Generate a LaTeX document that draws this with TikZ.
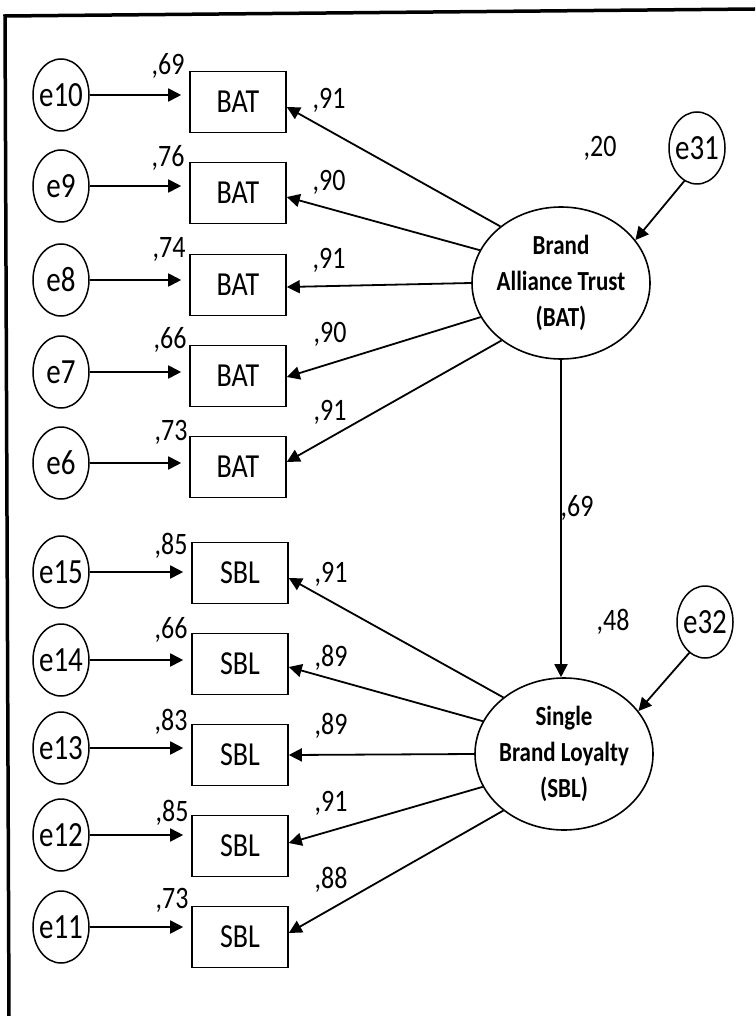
\documentclass[tikz,border=0pt]{standalone}
\usepackage{fontspec}
\setmainfont{Carlito}
\usepackage{graphicx}
\usetikzlibrary{arrows.meta,shapes.geometric,calc}
\newcommand{\tall}[1]{\scalebox{1}[1.2]{#1}}
\newcommand{\ztxt}[1]{\makebox[0pt]{\scalebox{1}[1.22]{#1}}}
\begin{document}
\begin{tikzpicture}[x=1pt,y=-1pt,
  errc/.style={draw,ellipse,line width=1.5pt,minimum width=56pt,minimum height=72pt,inner sep=0pt,font=\fontsize{29}{29}\selectfont},
  obsbox/.style={draw,rectangle,line width=1.6pt,minimum width=96pt,minimum height=61pt,inner sep=0pt,font=\fontsize{28}{28}\selectfont},
  latent/.style={draw,ellipse,line width=1.6pt,minimum width=178pt,minimum height=152pt,inner sep=0pt},
  lattext/.style={font=\bfseries\fontsize{23}{30}\selectfont,inner sep=0pt},
  coef/.style={font=\fontsize{26}{26}\selectfont,inner sep=0pt},
  arr/.style={line width=1.8pt,-{Triangle[length=13pt,width=13pt]}},
  frame/.style={line width=3.5pt}
]
\useasboundingbox (0,0) rectangle (755,1016);
% frame
\draw[frame] (9,1016) -- (5,16) -- (755,9);

% error terms
\node[errc] (e10) at (61,95)  {\ztxt{e10}};
\node[errc] (e9)  at (61,186) {\ztxt{e9}};
\node[errc] (e8)  at (61,280) {\ztxt{e8}};
\node[errc] (e7)  at (61,372) {\ztxt{e7}};
\node[errc] (e6)  at (61,463) {\ztxt{e6}};
\node[errc] (e15) at (61,572) {\ztxt{e15}};
\node[errc] (e14) at (61,660) {\ztxt{e14}};
\node[errc] (e13) at (61,748) {\ztxt{e13}};
\node[errc] (e12) at (61,835) {\ztxt{e12}};
\node[errc] (e11) at (61,927) {\ztxt{e11}};

% observed boxes
\node[obsbox] (b1) at (238,102) {\tall{BAT}};
\node[obsbox] (b2) at (238,193) {\tall{BAT}};
\node[obsbox] (b3) at (238,285) {\tall{BAT}};
\node[obsbox] (b4) at (238,376) {\tall{BAT}};
\node[obsbox] (b5) at (238,467) {\tall{BAT}};
\node[obsbox] (s1) at (240,573) {\tall{SBL}};
\node[obsbox] (s2) at (240,664) {\tall{SBL}};
\node[obsbox] (s3) at (240,755) {\tall{SBL}};
\node[obsbox] (s4) at (240,846) {\tall{SBL}};
\node[obsbox] (s5) at (240,937) {\tall{SBL}};

% latent variables
\node[latent,label={[lattext]center:\tall{\begin{tabular}{@{}c@{}}Brand\\Alliance Trust\\(BAT)\end{tabular}}}] (bat) at (561,283) {};
\node[latent,label={[lattext]center:\tall{\begin{tabular}{@{}c@{}}Single\\Brand Loyalty\\(SBL)\end{tabular}}}] (sbl) at (564,754) {};

% disturbances
\node[errc] (e31) at (697,148) {\ztxt{e31}};
\node[errc] (e32) at (705,622) {\ztxt{e32}};

% error arrows
\foreach \e/\b in {e10/b1,e9/b2,e8/b3,e7/b4,e6/b5,e15/s1,e14/s2,e13/s3,e12/s4,e11/s5}
  \draw[arr,shorten >=8pt] (\e) -- (\e -| \b.west);

% loadings
\draw[arr] (bat.137) -- ([yshift=-5pt]b1.east);
\draw[arr] (bat.158) -- ([yshift=-4pt]b2.east);
\draw[arr] (bat.180) -- ([yshift=-2pt]b3.east);
\draw[arr] (bat.203) -- ([yshift=-1pt]b4.east);
\draw[arr] (bat.224) -- ([yshift=5pt]b5.east);
\draw[arr] (sbl.137) -- ([yshift=-5pt]s1.east);
\draw[arr] (sbl.158) -- ([yshift=-3pt]s2.east);
\draw[arr] (sbl.180) -- (s3.east);
\draw[arr] (sbl.202) -- ([yshift=3pt]s4.east);
\draw[arr] (sbl.223) -- ([yshift=4pt]s5.east);

% structural path and disturbances
\draw[arr] (bat.south) -- (bat.south |- sbl.north);
\draw[arr] (e31.249) -- (bat.30);
\draw[arr] (e32.243) -- (sbl.30);

% error variance labels
\node[coef] (v1) at (168,66)  {\tall{,69}};
\node[coef] (v2) at (168,158) {\tall{,76}};
\node[coef] (v3) at (169,249) {\tall{,74}};
\node[coef] (v4) at (170,340) {\tall{,66}};
\node[coef] (v5) at (171,432) {\tall{,73}};
\node[coef] (v6) at (171,546) {\tall{,85}};
\node[coef] (v7) at (171,630) {\tall{,66}};
\node[coef] (v8) at (171,722) {\tall{,83}};
\node[coef] (v9) at (172,813) {\tall{,85}};
\node[coef] (v10) at (172,900) {\tall{,73}};

% loading labels
\node[coef] (l1) at (329,100) {\tall{,91}};
\node[coef] (l2) at (329,182) {\tall{,90}};
\node[coef] (l3) at (329,260) {\tall{,91}};
\node[coef] (l4) at (330,334) {\tall{,90}};
\node[coef] (l5) at (330,412) {\tall{,91}};
\node[coef] (l6) at (331,574) {\tall{,91}};
\node[coef] (l7) at (331,658) {\tall{,89}};
\node[coef] (l8) at (331,726) {\tall{,89}};
\node[coef] (l9) at (331,803) {\tall{,91}};
\node[coef] (l10) at (331,880) {\tall{,88}};

% structural labels
\node[coef] (r1) at (600,148) {\tall{,20}};
\node[coef] (p1) at (577,508) {\tall{,69}};
\node[coef] (r2) at (613,622) {\tall{,48}};
\end{tikzpicture}
\end{document}
